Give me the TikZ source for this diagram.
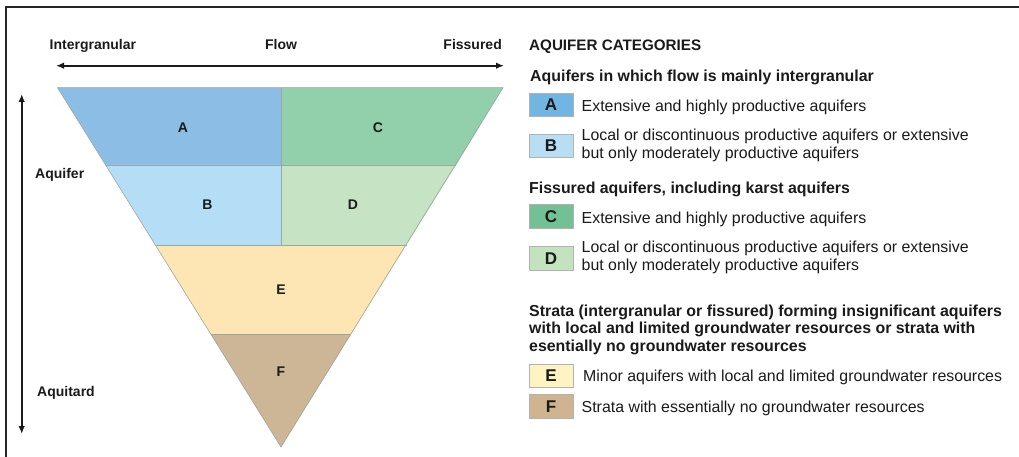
\documentclass[tikz,border=0pt]{standalone}
\usepackage{fontspec}
\setmainfont{Liberation Sans}
\usetikzlibrary{arrows.meta}

% fills of the zones and of the key boxes
\definecolor{zoneA}{HTML}{8CBDE5}
\definecolor{zoneB}{HTML}{B3DEF5}
\definecolor{zoneC}{HTML}{92D0AC}
\definecolor{zoneD}{HTML}{C6E3C3}
\definecolor{zoneE}{HTML}{FDE6B3}
\definecolor{zoneF}{HTML}{CCB695}
\definecolor{keyA}{HTML}{72B5E3}
\definecolor{keyB}{HTML}{B8DEF4}
\definecolor{keyC}{HTML}{72C093}
\definecolor{keyD}{HTML}{C3E3BF}
\definecolor{keyE}{HTML}{FFF3C2}
\definecolor{keyF}{HTML}{CFB48F}
\definecolor{ink}{HTML}{1A1A1A}
\definecolor{seam}{HTML}{9AA6A0}

\tikzset{
  zone/.style={draw=seam, line width=0.6pt},
  zonelabel/.style={font=\fontsize{14}{16}\selectfont\bfseries, text=ink, inner sep=0pt},
  axislabel/.style={font=\fontsize{14}{16}\selectfont\bfseries, text=ink, inner sep=0pt},
  keybox/.style={draw=black!30, line width=0.6pt, minimum width=44pt, minimum height=23.5pt,
                 inner sep=0pt, font=\fontsize{17}{17}\selectfont\bfseries, text=ink},
  keytext/.style={font=\fontsize{15.9}{17.7}\selectfont, text=ink, inner sep=0pt, anchor=base west,
                  align=left},
  keyhead/.style={font=\fontsize{15.9}{17.8}\selectfont\bfseries, text=ink, inner sep=0pt,
                  anchor=base west, align=left},
  axis/.style={line width=1.8pt, draw=ink, {Latex[length=8pt,width=6.5pt]}-{Latex[length=8pt,width=6.5pt]}},
}

\begin{document}
\begin{tikzpicture}[x=1pt, y=-1pt]
\useasboundingbox (0,0) rectangle (1019,457);

% frame edges
\draw[line width=1.3pt, draw=black!85] (6,457) -- (6,7) -- (1019,7);

% ----- inverted triangle of zones -----
\coordinate (tl) at (57.5,87.7);
\coordinate (tr) at (503,87.7);
\coordinate (tm) at (281,87.7);
\coordinate (l1) at (105.8,165);
\coordinate (m1) at (281,165);
\coordinate (r1) at (456.2,165);
\coordinate (l2) at (155.5,245);
\coordinate (m2) at (281,245);
\coordinate (r2) at (406.5,245);
\coordinate (l3) at (210.8,334);
\coordinate (r3) at (351.2,334);
\coordinate (apex) at (281,447);

\fill[zoneA] (tl) -- (tm) -- (m1) -- (l1) -- cycle;
\fill[zoneC] (tm) -- (tr) -- (r1) -- (m1) -- cycle;
\fill[zoneB] (l1) -- (m1) -- (m2) -- (l2) -- cycle;
\fill[zoneD] (m1) -- (r1) -- (r2) -- (m2) -- cycle;
\fill[zoneE] (l2) -- (r2) -- (r3) -- (l3) -- cycle;
\fill[zoneF] (l3) -- (r3) -- (apex) -- cycle;
\draw[zone] (tl) -- (tr) -- (apex) -- cycle;
\draw[zone] (l1) -- (r1) (l2) -- (r2) (l3) -- (r3) (tm) -- (m2);

\node[zonelabel] (lA) at (183,127.5) {A};
\node[zonelabel] (lC) at (378,127.5) {C};
\node[zonelabel] (lB) at (207.5,205) {B};
\node[zonelabel] (lD) at (353,205) {D};
\node[zonelabel] (lE) at (281,290) {E};
\node[zonelabel] (lF) at (281,372) {F};

% ----- flow axis -----
\node[axislabel, anchor=base west] (intg) at (49.5,50) {Intergranular};
\node[axislabel, anchor=base] (flow) at (281,50) {Flow};
\node[axislabel, anchor=base east] (fiss) at (502,50) {Fissured};
\coordinate (fl) at (56,65.7);
\coordinate (fr) at (504,65.7);
\draw[axis] (fl) -- (fr);

% ----- aquifer / aquitard axis -----
\coordinate (vt) at (21.7,94);
\coordinate (vb) at (21.7,434);
\draw[axis] (vt) -- (vb);
\node[axislabel, anchor=base west] (aqf) at (35,178.3) {Aquifer};
\node[axislabel, anchor=base west] (aqt) at (37,396.7) {Aquitard};

% ----- key (multi-line texts are placed by the baseline of their last line) -----
\node[keyhead, font=\fontsize{15.2}{17}\selectfont\bfseries] (title) at (529,50.7) {AQUIFER CATEGORIES};

\node[keyhead] (h1) at (530,81.7) {Aquifers in which flow is mainly intergranular};
\node[keybox, fill=keyA] (bA) at (551,105) {A};
\node[keytext] (tA) at (581.5,111.7) {Extensive and highly productive aquifers};
\node[keybox, fill=keyB] (bB) at (551,145.7) {B};
\node[keytext] (tB) at (581.5,158.3) {Local or discontinuous productive aquifers or extensive\\but only moderately productive aquifers};

\node[keyhead] (h2) at (529,193.3) {Fissured aquifers, including karst aquifers};
\node[keybox, fill=keyC] (bC) at (551,216.5) {C};
\node[keytext] (tC) at (581.5,223.3) {Extensive and highly productive aquifers};
\node[keybox, fill=keyD] (bD) at (551,258.3) {D};
\node[keytext] (tD) at (581.5,270) {Local or discontinuous productive aquifers or extensive\\but only moderately productive aquifers};

\node[keyhead] (h3) at (529,351.7) {Strata (intergranular or fissured) forming insignificant aquifers\\with local and limited groundwater resources or strata with\\esentially no groundwater resources};
\node[keybox, fill=keyE] (bE) at (551,375.7) {E};
\node[keytext] (tE) at (583,381.7) {Minor aquifers with local and limited groundwater resources};
\node[keybox, fill=keyF] (bF) at (551,406.2) {F};
\node[keytext] (tF) at (581.5,412.3) {Strata with essentially no groundwater resources};
\end{tikzpicture}
\end{document}
